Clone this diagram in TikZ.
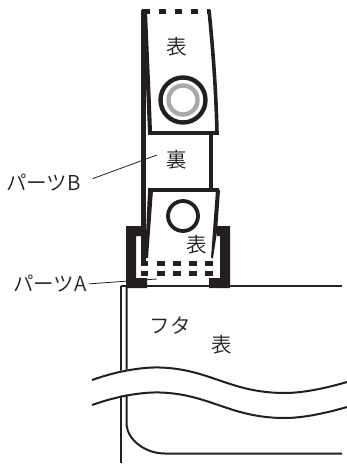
\documentclass[tikz,border=0pt]{standalone}
\usepackage{fontspec}
\setmainfont{Noto Sans CJK JP}[UprightFont=* DemiLight]
\usepackage{xcolor}
\definecolor{inkblack}{HTML}{231F20}
\definecolor{ringgrey}{HTML}{A7A9AC}
\tikzset{
	caption/.style={inner sep=0pt,text=inkblack,font=\fontsize{20.5}{20.5}\selectfont},
	leader/.style={draw=inkblack,line width=0.8pt},
	band/.style={draw=inkblack,line width=3.6pt},
	flapline/.style={draw=inkblack,line width=2pt},
	stitch/.style={fill=inkblack,draw=none},
}
\begin{document}
\begin{tikzpicture}[x=1pt,y=-1pt]
	\useasboundingbox (0,0) rectangle (347,464);
	% clips
	\fill[inkblack] (126,226) -- (143,226) -- (143,236) -- (136,236) -- (136,278) -- (147,278) -- (147,288) -- (126,288) -- cycle;
	\fill[inkblack] (230,226) -- (217,226) -- (217,236) -- (220,236) -- (220,278) -- (209,278) -- (209,288) -- (230,288) -- cycle;
	% strap
	\draw[inkblack,line width=4.4pt] (143.5,10) -- (143.5,262);
	\draw[band] (211,133) -- (211,190);
	\fill[inkblack] (143,11) -- (147,11) .. controls (149,60) and (151,100) .. (152,133) -- (148,133) -- cycle;
	\draw[band] (209,10) .. controls (213,50) and (216,90) .. (217,133);
	\draw[band] (148,133) -- (219,133);
	\draw[band] (148,190) -- (219,190);
	\fill[inkblack] (148,190) -- (153,190) -- (148,258) -- (145,258) -- cycle;
	\fill[inkblack] (216,190) -- (220,190) -- (217,232) -- (213,258) -- (211,258) -- cycle;
	% stitches
	\foreach \px/\pw in {142/8,159/7,175/7,191/7,207/3}
		\fill[stitch] (\px,9) rectangle ++(\pw,4.5);
	\foreach \py in {263,273}
		\foreach \px/\pw in {141/7,157/8,173/8,189/8,205/8}
			\fill[stitch] (\px,\py-2.5) rectangle ++(\pw,5);
	% eyelets
	\node[circle,draw=inkblack,line width=4.4pt,minimum size=45pt,inner sep=0pt] (eyeletTop) at (183,100) {};
	\node[circle,draw=ringgrey,line width=4.4pt,minimum size=29pt,inner sep=0pt] (ringTop) at (183,100) {};
	\node[circle,draw=inkblack,line width=3.8pt,minimum size=30pt,inner sep=0pt] (eyeletLow) at (183,216) {};
	% flap
	\draw[flapline] (120.5,286) -- (342,286);
	\draw[flapline] (120.5,286) -- (120.5,463);
	\draw[flapline] (126.5,286) -- (126.5,425) .. controls (128,440) and (145,453.5) .. (165,453.5) -- (342,453.5);
	\fill[white] (118,371) -- (130,369) -- (130,394) -- (118,396) -- cycle;
	\draw[flapline] (92,380) .. controls (120,370) and (145,367) .. (160,367.5) .. controls (210,369) and (230,393) .. (285,393) .. controls (305,393) and (330,387) .. (347,382);
	\draw[flapline] (92,405) .. controls (120,395) and (145,392) .. (160,392.5) .. controls (210,394) and (230,418) .. (285,418) .. controls (305,418) and (330,412) .. (347,407);
	% captions
	\node[caption] (frontTop) at (177,47) {表};
	\node[caption] (back) at (177,160) {裏};
	\node[caption] (frontLow) at (197,245) {表};
	\node[caption] (frontFlap) at (222,345) {表};
	\node[caption] (flapName) at (170,326) {フタ};
	\node[caption,anchor=west] (partB) at (6,183) {パーツB};
	\node[caption,anchor=west] (partA) at (13,284) {パーツA};
	% leaders
	\coordinate (partBend) at (157,155);
	\coordinate (partAend) at (157,279);
	\draw[leader,shorten <=12.5pt] (partB.east) -- (partBend);
	\draw[leader,shorten <=2pt] (partA.east) -- (partAend);
\end{tikzpicture}
\end{document}
